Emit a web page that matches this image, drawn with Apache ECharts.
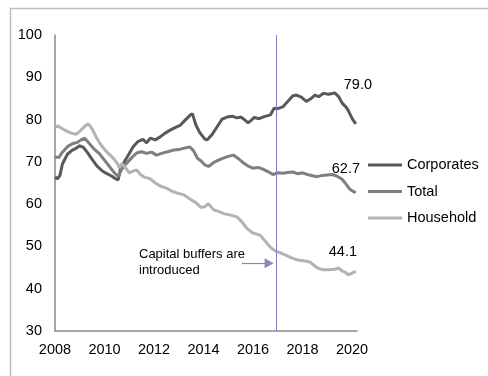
<!DOCTYPE html>
<html>
<head>
<meta charset="utf-8">
<script src="https://cdn.jsdelivr.net/npm/echarts@6/dist/echarts.min.js"></script>
<style>
  html, body { margin: 0; padding: 0; background: #fff; }
  #chart { width: 488px; height: 376px; }
</style>
</head>
<body>
<div id="chart"></div>
<script>
// Credit-to-GDP style ratios, [year, value]
const corporates = [
  [2008.0, 66.4], [2008.1, 66.0], [2008.2, 66.8], [2008.3, 69.5], [2008.5, 71.8],
  [2008.7, 72.8], [2008.85, 73.2], [2009.0, 73.8], [2009.15, 73.4], [2009.3, 72.3],
  [2009.5, 70.6], [2009.7, 69.0], [2009.9, 67.9], [2010.1, 67.2], [2010.3, 66.6],
  [2010.45, 66.0], [2010.55, 65.7], [2010.65, 68.4], [2010.8, 70.0], [2011.0, 72.0],
  [2011.15, 73.5], [2011.35, 74.8], [2011.55, 75.3], [2011.7, 74.5], [2011.85, 75.6],
  [2012.05, 75.2], [2012.25, 75.9], [2012.45, 76.8], [2012.65, 77.5], [2012.85, 78.1],
  [2013.05, 78.6], [2013.25, 79.8], [2013.45, 81.0], [2013.55, 81.4], [2013.7, 78.6],
  [2013.85, 76.9], [2014.05, 75.4], [2014.15, 75.2], [2014.35, 76.5], [2014.55, 78.3],
  [2014.75, 80.1], [2014.95, 80.6], [2015.15, 80.8], [2015.35, 80.4], [2015.5, 80.6],
  [2015.65, 80.0], [2015.8, 79.2], [2015.9, 79.7], [2016.05, 80.5], [2016.25, 80.2],
  [2016.45, 80.7], [2016.7, 81.1], [2016.85, 82.7], [2017.0, 82.6], [2017.2, 83.0],
  [2017.4, 84.3], [2017.6, 85.6], [2017.75, 85.8], [2017.95, 85.3], [2018.15, 84.3],
  [2018.35, 85.0], [2018.5, 85.8], [2018.65, 85.4], [2018.85, 86.2], [2019.05, 86.0],
  [2019.3, 86.3], [2019.45, 85.5], [2019.6, 83.9], [2019.75, 83.0], [2019.85, 82.1],
  [2020.0, 80.3], [2020.15, 79.0]
];
const total = [
  [2008.0, 71.2], [2008.15, 71.0], [2008.3, 72.3], [2008.5, 73.6], [2008.7, 74.3],
  [2008.9, 74.6], [2009.05, 75.2], [2009.2, 75.6], [2009.35, 74.6], [2009.55, 73.2],
  [2009.8, 71.9], [2010.0, 70.4], [2010.2, 68.9], [2010.4, 67.4], [2010.55, 66.6],
  [2010.7, 68.3], [2010.9, 69.7], [2011.1, 71.0], [2011.3, 72.1], [2011.5, 72.4],
  [2011.7, 72.0], [2011.9, 72.3], [2012.1, 71.6], [2012.3, 72.0], [2012.55, 72.4],
  [2012.8, 72.8], [2013.0, 72.9], [2013.25, 73.3], [2013.45, 73.5], [2013.6, 72.6],
  [2013.75, 70.9], [2013.9, 70.2], [2014.05, 69.3], [2014.2, 68.9], [2014.4, 69.8],
  [2014.6, 70.4], [2014.8, 70.9], [2015.0, 71.3], [2015.2, 71.6], [2015.4, 70.8],
  [2015.6, 69.8], [2015.8, 69.0], [2016.0, 68.5], [2016.2, 68.7], [2016.4, 68.3],
  [2016.6, 67.7], [2016.8, 67.0], [2017.0, 67.4], [2017.2, 67.3], [2017.4, 67.5],
  [2017.6, 67.6], [2017.8, 67.2], [2018.0, 67.4], [2018.2, 67.0], [2018.4, 66.7],
  [2018.6, 66.5], [2018.8, 66.8], [2019.0, 66.9], [2019.2, 67.0], [2019.4, 66.6],
  [2019.6, 65.9], [2019.75, 64.8], [2019.9, 63.6], [2020.05, 63.0], [2020.15, 62.7]
];
const household = [
  [2008.0, 78.3], [2008.1, 78.5], [2008.25, 78.0], [2008.45, 77.3], [2008.65, 76.8],
  [2008.85, 76.5], [2009.0, 77.2], [2009.2, 78.4], [2009.35, 79.0], [2009.5, 77.8],
  [2009.65, 76.0], [2009.8, 74.5], [2009.95, 73.3], [2010.15, 72.0], [2010.35, 70.9],
  [2010.5, 69.8], [2010.6, 68.6], [2010.7, 69.6], [2010.85, 68.6], [2011.0, 67.4],
  [2011.15, 67.8], [2011.3, 68.1], [2011.45, 67.0], [2011.6, 66.4], [2011.85, 66.0],
  [2012.05, 65.0], [2012.25, 64.3], [2012.5, 63.8], [2012.75, 63.0], [2012.95, 62.6],
  [2013.2, 62.2], [2013.45, 61.2], [2013.7, 60.3], [2013.9, 59.2], [2014.05, 59.4],
  [2014.2, 60.1], [2014.4, 58.7], [2014.6, 58.3], [2014.85, 57.7], [2015.1, 57.4],
  [2015.35, 57.0], [2015.55, 55.8], [2015.75, 54.3], [2015.95, 53.3], [2016.15, 52.9],
  [2016.3, 52.6], [2016.5, 51.2], [2016.7, 49.8], [2016.9, 48.9], [2017.1, 48.5],
  [2017.3, 48.0], [2017.55, 47.3], [2017.8, 46.8], [2018.05, 46.6], [2018.3, 46.3],
  [2018.45, 45.6], [2018.6, 44.9], [2018.8, 44.5], [2019.05, 44.5], [2019.3, 44.6],
  [2019.45, 44.9], [2019.6, 44.2], [2019.75, 43.8], [2019.85, 43.3], [2020.0, 43.7],
  [2020.15, 44.1]
];
const seriesNames = ['Corporates', 'Total', 'Household'];
const xTicks = [2008, 2010, 2012, 2014, 2016, 2018, 2020];
const yTicks = [30, 40, 50, 60, 70, 80, 90, 100];
const buffersIntroduced = 2016.95;
const arrowFrom = [2015.55, 46.0];
const arrowTo = [2016.65, 46.0];
const noteText = 'Capital buffers are\nintroduced';

const FONT = 'Liberation Sans, Arial, sans-serif';
const chart = echarts.init(document.getElementById('chart'), null, { renderer: 'canvas' });

function lineSeries(name, data, color, offset) {
  return {
    name: name,
    type: 'line',
    data: data,
    symbol: 'none',
    lineStyle: { color: color, width: 3 },
    itemStyle: { color: color },
    z: 3,
    endLabel: {
      show: true,
      distance: 0,
      offset: offset,
      color: '#000',
      fontFamily: FONT,
      fontSize: 14.5,
      formatter: p => p.value[1].toFixed(1)
    }
  };
}

chart.setOption({
  animation: false,
  backgroundColor: '#fff',
  textStyle: { fontFamily: FONT },
  graphic: [
    {
      type: 'rect',
      shape: { x: 10.5, y: 8.5, width: 600, height: 500 },
      style: { fill: 'none', stroke: '#bdbdbd', lineWidth: 1.5 },
      silent: true,
      z: -1
    },
    {
      type: 'text',
      left: 139,
      top: 246,
      style: { text: noteText, font: '13px ' + FONT, fill: '#000', lineHeight: 16 }
    }
  ],
  grid: { left: 55, right: 131, top: 35, bottom: 45 },
  legend: {
    data: seriesNames,
    orient: 'vertical',
    left: 368,
    top: 157,
    padding: 0,
    icon: 'rect',
    itemWidth: 34,
    itemHeight: 3,
    itemGap: 10.5,
    textStyle: { fontFamily: FONT, fontSize: 14.5, lineHeight: 16, color: '#000' }
  },
  xAxis: {
    type: 'value',
    min: 2008,
    max: 2020.2,
    interval: 2,
    axisLine: { lineStyle: { color: '#8a8a8a', width: 1.5 } },
    axisTick: { show: false },
    splitLine: { show: false },
    axisLabel: {
      color: '#000', fontSize: 14.5, fontFamily: FONT, margin: 11,
      formatter: v => (xTicks.indexOf(v) >= 0 ? String(v) : '')
    }
  },
  yAxis: {
    type: 'value',
    min: yTicks[0],
    max: yTicks[yTicks.length - 1],
    interval: 10,
    axisLine: { show: true, lineStyle: { color: '#8a8a8a', width: 1.5 } },
    axisTick: { show: false },
    splitLine: { show: false },
    axisLabel: { color: '#000', fontSize: 14.5, fontFamily: FONT, margin: 13 }
  },
  series: [
    lineSeries(seriesNames[0], corporates, '#595959', [-12, -39]),
    lineSeries(seriesNames[1], total, '#7f7f7f', [-24, -24]),
    lineSeries(seriesNames[2], household, '#b3b3b3', [-27, -19]),
    {
      type: 'line',
      data: [],
      silent: true,
      markLine: {
        silent: true,
        symbol: 'none',
        label: { show: false },
        lineStyle: { color: '#8e78bf', width: 1, type: 'solid' },
        data: [{ xAxis: buffersIntroduced }]
      }
    },
    {
      type: 'line',
      data: [],
      silent: true,
      markLine: {
        silent: true,
        symbol: ['none', 'triangle'],
        symbolSize: [10, 9],
        label: { show: false },
        lineStyle: { color: '#9580bf', width: 1.2, type: 'solid' },
        itemStyle: { color: '#7a5fa8' },
        data: [[{ coord: arrowFrom }, { coord: arrowTo }]]
      }
    }
  ]
});
</script>
</body>
</html>
